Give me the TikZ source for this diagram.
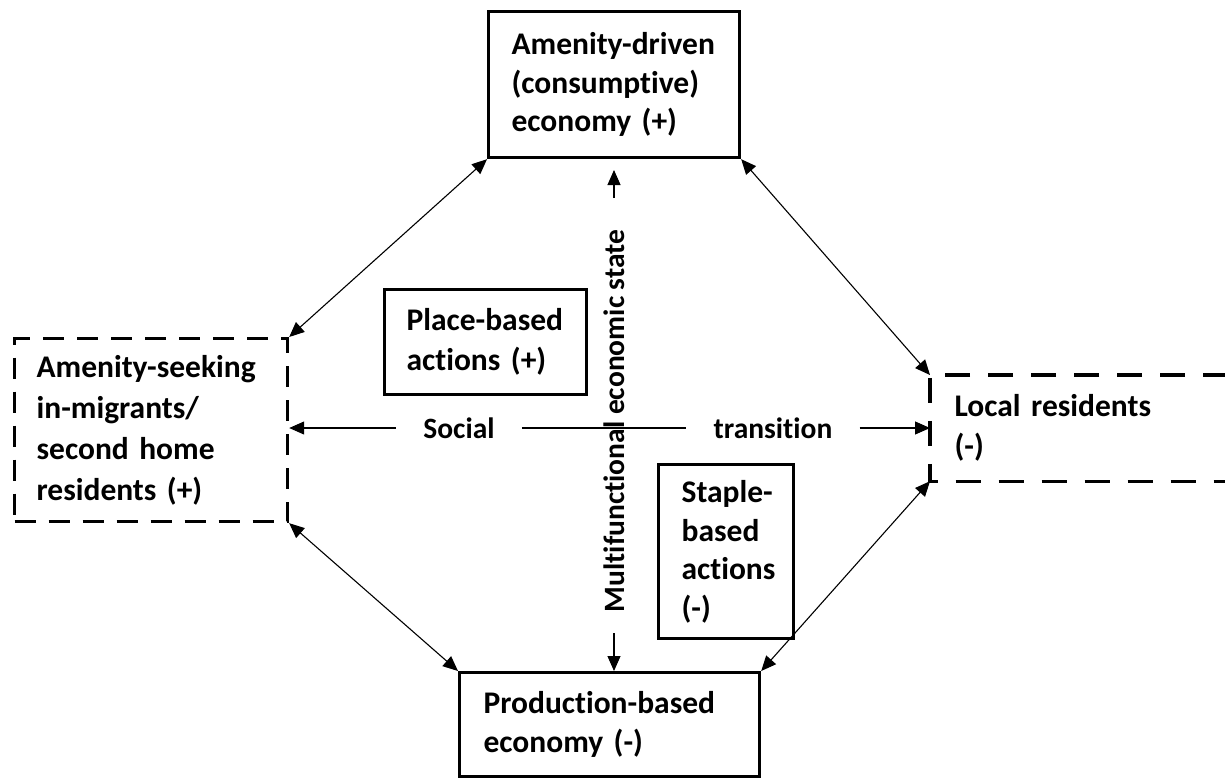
\documentclass[tikz,border=0pt]{standalone}
\usepackage{fontspec}
\setmainfont{Carlito}[Ligatures={NoCommon}]
\usetikzlibrary{arrows.meta}
\hyphenpenalty=10000
\exhyphenpenalty=10000
\begin{document}
\begin{tikzpicture}[x=1pt,y=-1pt,
  txt/.style={font=\fontsize{31.5}{38.5}\selectfont\bfseries},
  lbltxt/.style={font=\fontsize{29.5}{36}\selectfont\bfseries},
  box/.style={txt, align=left, anchor=north west, inner ysep=0pt, line width=3.2pt},
  solidbox/.style={box, draw},
  dashbox/.style={box, draw, dash pattern=on 21pt off 13pt},
  conn/.style={line width=1.1pt, {Triangle[length=15pt,width=13pt]}-{Triangle[length=15pt,width=13pt]}},
  oneway/.style={line width=1.1pt, -{Triangle[length=15pt,width=13pt]}},
  lbl/.style={lbltxt, fill=white, inner xsep=27pt, inner ysep=2pt}
]
\useasboundingbox (0,0) rectangle (1225,777);

% boxes
\node[solidbox, minimum width=251pt, minimum height=146pt, inner xsep=23pt, text width=205pt] (T) at (487,10)
  {Amenity-driven\\(consumptive)\\economy (+)};
\node[dashbox, minimum width=273pt, minimum height=183pt, inner xsep=22pt, text width=229pt,
  font=\fontsize{31.5}{41}\selectfont\bfseries] (L) at (13,337)
  {Amenity-seeking\\in-migrants/\\second home\\residents (+)};
\node[box, minimum width=295pt, minimum height=103pt, inner xsep=23pt, text width=249pt,
  font=\fontsize{31.5}{40}\selectfont\bfseries] (R) at (930,375)
  {Local residents\\(-)};
\draw[line width=3.2pt, dash pattern=on 25pt off 18pt]
  (R.north east) -- (R.north west) -- (R.south west) -- (R.south east);
\node[solidbox, minimum width=300pt, minimum height=104pt, inner xsep=24pt, text width=252pt] (B) at (458,671)
  {Production-based\\economy (-)};
\node[solidbox, minimum width=202pt, minimum height=105pt, inner xsep=22pt, text width=158pt,
  font=\fontsize{31.5}{40}\selectfont\bfseries] (P) at (383,288)
  {Place-based\\actions (+)};
\node[solidbox, minimum width=135pt, minimum height=174pt, inner xsep=23pt, text width=89pt] (S) at (657,463)
  {Staple-\\based\\actions\\(-)};

% vertical label
\node[lbltxt, rotate=90, inner sep=0pt] (M) at (614,421) {Multifunctional economic state};
\coordinate (mt1) at (614,198);
\coordinate (mt2) at (614,170);
\coordinate (mb1) at (614,633);
\draw[oneway] (mt1) -- (mt2);
\draw[oneway] (mb1) -- (mb1 |- B.north);

% diagonal connectors
\draw[conn] (L.north east) -- (T.south west);
\draw[conn] (T.south east) -- (R.north west);
\draw[conn] (L.south east) -- (B.north west);
\draw[conn] (B.north east) -- (R.south west);

% horizontal social transition
\node[lbl] (So) at (459,428) {Social};
\node[lbl] (Tr) at (773,428) {transition};
\draw[line width=1.1pt, {Triangle[length=15pt,width=13pt]}-] (L.east |- So.west) -- (So.west);
\draw[line width=1.1pt] (So.east) -- (Tr.west);
\draw[oneway] (Tr.east) -- (R.west |- Tr.east);
\end{tikzpicture}
\end{document}
